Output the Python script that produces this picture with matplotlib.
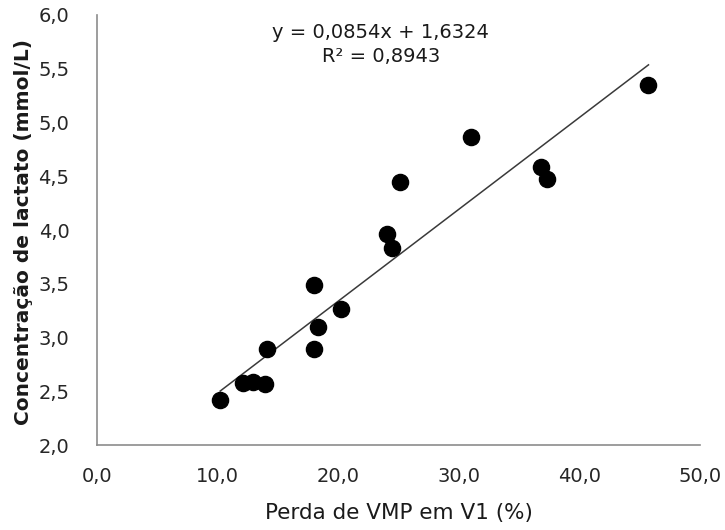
import numpy as np
import matplotlib.pyplot as plt

# Perda de VMP em V1 (%) vs concentração de lactato (mmol/L)
perda_vmp = [10.2, 12.1, 12.9, 13.9, 14.1, 18.0, 18.0, 18.3, 20.2,
             24.0, 24.4, 25.1, 31.0, 36.8, 37.3, 45.7]
lactato = [2.42, 2.58, 2.59, 2.57, 2.89, 3.49, 2.89, 3.10, 3.27,
           3.96, 3.83, 4.45, 4.86, 4.59, 4.47, 5.35]

slope = 0.0854
intercept = 1.6324
r2 = 0.8943

x_ticks = [0, 10, 20, 30, 40, 50]
y_ticks = [2.0, 2.5, 3.0, 3.5, 4.0, 4.5, 5.0, 5.5, 6.0]


def virgula(v):
    return f"{v:.1f}".replace(".", ",")


fig = plt.figure(figsize=(7.25, 5.3), dpi=100)
ax = fig.add_axes([0.134, 0.160, 0.832, 0.812])

ax.scatter(perda_vmp, lactato, s=135, color="black", zorder=3)

# linha de tendência linear entre o menor e o maior x
xl = np.array([min(perda_vmp), max(perda_vmp)])
ax.plot(xl, slope * xl + intercept, color="#3a3a3a", lw=1.1, zorder=2)

ax.set_xlim(0, 50)
ax.set_ylim(2, 6)
ax.set_xticks(x_ticks)
ax.set_xticklabels([virgula(v) for v in x_ticks])
ax.set_yticks(y_ticks)
ax.set_yticklabels([virgula(v) for v in y_ticks])
ax.tick_params(axis="x", length=0, labelsize=14, labelcolor="#262626", pad=16)
ax.tick_params(axis="y", length=0, labelsize=14, labelcolor="#262626", pad=20)

for s in ["top", "right"]:
    ax.spines[s].set_visible(False)
for s in ["left", "bottom"]:
    ax.spines[s].set_color("#8c8c8c")
    ax.spines[s].set_linewidth(1.2)

ax.set_xlabel("Perda de VMP em V1 (%)", fontsize=15.5, color="#1a1a1a", labelpad=12)
ax.set_ylabel("Concentração de lactato (mmol/L)", fontsize=14.5,
              fontweight="bold", color="#1a1a1a")
ax.yaxis.set_label_coords(-0.106, 0.495)

eq = (f"y = {slope:.4f}x + {intercept:.4f}".replace(".", ",")
      + "\n" + f"R² = {r2:.4f}".replace(".", ","))
ax.text(0.47, 0.98, eq, transform=ax.transAxes, ha="center", va="top",
        fontsize=14, color="#1a1a1a", linespacing=1.3)

fig.savefig("out.png", dpi=100)
